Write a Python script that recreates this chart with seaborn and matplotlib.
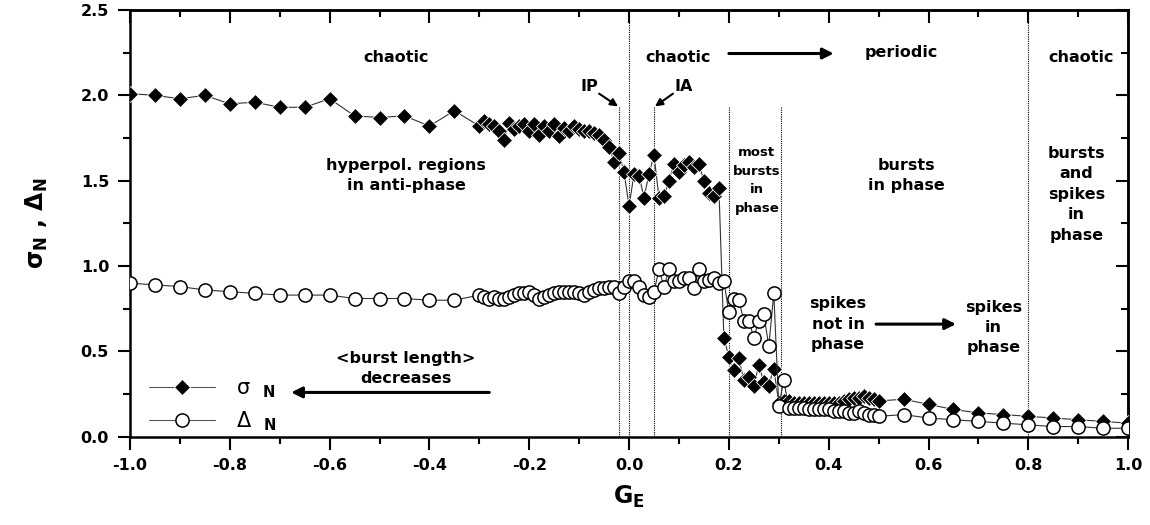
import numpy as np
import pandas as pd
import matplotlib
matplotlib.use("Agg")
import matplotlib.pyplot as plt
import seaborn as sns

sns.set_style("ticks")
plt.rcParams['font.family'] = ['DejaVu Sans']
plt.rcParams['mathtext.fontset'] = 'dejavusans'
for key in ['text.color', 'axes.labelcolor', 'xtick.color', 'ytick.color', 'axes.edgecolor']:
    plt.rcParams[key] = 'black'

# ---------------- data ----------------
ge_left = [-1.00, -0.95, -0.90, -0.85, -0.80, -0.75, -0.70, -0.65, -0.60,
           -0.55, -0.50, -0.45, -0.40, -0.35]
sigma_left = [2.01, 2.00, 1.98, 2.00, 1.95, 1.96, 1.93, 1.93, 1.98,
              1.88, 1.87, 1.88, 1.82, 1.91]
delta_left = [0.90, 0.89, 0.88, 0.86, 0.85, 0.84, 0.83, 0.83, 0.83,
              0.81, 0.81, 0.81, 0.80, 0.80]

ge_mid = [-0.30, -0.29, -0.28, -0.27, -0.26, -0.25, -0.24, -0.23, -0.22, -0.21,
          -0.20, -0.19, -0.18, -0.17, -0.16, -0.15, -0.14, -0.13, -0.12, -0.11,
          -0.10, -0.09, -0.08, -0.07, -0.06, -0.05, -0.04, -0.03, -0.02, -0.01,
          0.00, 0.01, 0.02, 0.03, 0.04, 0.05, 0.06, 0.07, 0.08, 0.09,
          0.10, 0.11, 0.12, 0.13, 0.14, 0.15, 0.16, 0.17, 0.18, 0.19,
          0.20, 0.21, 0.22, 0.23, 0.24, 0.25, 0.26, 0.27, 0.28, 0.29,
          0.30, 0.31, 0.32, 0.33, 0.34, 0.35, 0.36, 0.37, 0.38, 0.39,
          0.40, 0.41, 0.42, 0.43, 0.44, 0.45, 0.46, 0.47, 0.48, 0.49,
          0.50]
sigma_mid = [1.82, 1.85, 1.83, 1.82, 1.79, 1.74, 1.84, 1.80, 1.82, 1.83,
             1.79, 1.83, 1.77, 1.82, 1.79, 1.83, 1.76, 1.81, 1.79, 1.82,
             1.80, 1.79, 1.79, 1.78, 1.77, 1.74, 1.70, 1.61, 1.66, 1.55,
             1.35, 1.54, 1.53, 1.40, 1.54, 1.65, 1.40, 1.41, 1.50, 1.60,
             1.55, 1.59, 1.61, 1.58, 1.60, 1.50, 1.43, 1.41, 1.46, 0.58,
             0.47, 0.39, 0.46, 0.33, 0.35, 0.30, 0.42, 0.32, 0.30, 0.40,
             0.20, 0.21, 0.21, 0.20, 0.20, 0.20, 0.20, 0.20, 0.20, 0.20,
             0.20, 0.20, 0.20, 0.21, 0.22, 0.23, 0.23, 0.24, 0.23, 0.22,
             0.21]
delta_mid = [0.83, 0.82, 0.81, 0.82, 0.81, 0.81, 0.82, 0.83, 0.84, 0.84,
             0.85, 0.83, 0.81, 0.82, 0.83, 0.84, 0.85, 0.85, 0.85, 0.85,
             0.84, 0.83, 0.85, 0.86, 0.87, 0.87, 0.88, 0.88, 0.84, 0.88,
             0.91, 0.91, 0.88, 0.83, 0.82, 0.85, 0.98, 0.88, 0.98, 0.91,
             0.91, 0.93, 0.93, 0.87, 0.98, 0.91, 0.92, 0.93, 0.90, 0.91,
             0.73, 0.81, 0.80, 0.68, 0.68, 0.58, 0.68, 0.72, 0.53, 0.84,
             0.18, 0.33, 0.17, 0.17, 0.17, 0.17, 0.16, 0.16, 0.16, 0.16,
             0.16, 0.15, 0.15, 0.15, 0.14, 0.14, 0.15, 0.14, 0.13, 0.13,
             0.12]

ge_right = [0.55, 0.60, 0.65, 0.70, 0.75, 0.80, 0.85, 0.90, 0.95, 1.00]
sigma_right = [0.22, 0.19, 0.16, 0.14, 0.13, 0.12, 0.11, 0.10, 0.09, 0.08]
delta_right = [0.13, 0.11, 0.10, 0.09, 0.08, 0.07, 0.06, 0.06, 0.05, 0.05]

df = pd.DataFrame({
    "ge": ge_left + ge_mid + ge_right,
    "sigma": sigma_left + sigma_mid + sigma_right,
    "delta": delta_left + delta_mid + delta_right,
})

# dotted boundaries: (x, top)
boundaries = [(-0.02, 1.93), (0.0, 2.5), (0.05, 1.93), (0.2, 1.93), (0.305, 1.93), (0.8, 2.5)]

# ---------------- figure ----------------
fig = plt.figure(figsize=(11.5, 5.25), dpi=100)
ax = fig.add_axes([0.113, 0.168, 0.868, 0.813])

for xb, top in boundaries:
    ax.vlines(xb, 0, top, colors="black", linestyles=(0, (1, 1)), linewidth=0.8, zorder=1)

sns.lineplot(data=df, x="ge", y="sigma", ax=ax, estimator=None, sort=False,
             color="#333333", linewidth=0.8, marker="D", markersize=8.5,
             markerfacecolor="black", markeredgecolor="white", markeredgewidth=0.6,
             label=r"σ  $_{\mathbf{N}}$", zorder=3)
sns.lineplot(data=df, x="ge", y="delta", ax=ax, estimator=None, sort=False,
             color="#333333", linewidth=0.8, marker="o", markersize=9.5,
             markerfacecolor="white", markeredgecolor="black", markeredgewidth=1.1,
             label=r"Δ  $_{\mathbf{N}}$", zorder=4)

ax.set_xlim(-1.0, 1.0)
ax.set_ylim(0.0, 2.5)
ax.set_xticks([-1.0, -0.8, -0.6, -0.4, -0.2, 0.0, 0.2, 0.4, 0.6, 0.8, 1.0])
ax.set_xticks([-0.9, -0.7, -0.5, -0.3, -0.1, 0.1, 0.3, 0.5, 0.7, 0.9], minor=True)
ax.set_yticks([0.0, 0.5, 1.0, 1.5, 2.0, 2.5])
ax.set_yticks([0.25, 0.75, 1.25, 1.75, 2.25], minor=True)
ax.set_xticklabels(["-1.0", "-0.8", "-0.6", "-0.4", "-0.2", "0.0", "0.2", "0.4", "0.6", "0.8", "1.0"])
ax.set_yticklabels(["0.0", "0.5", "1.0", "1.5", "2.0", "2.5"])
ax.tick_params(which="major", direction="out", length=9, width=1.5, labelsize=11.5, pad=6)
ax.tick_params(which="minor", direction="out", length=5, width=1.5)
for lab in ax.get_xticklabels() + ax.get_yticklabels():
    lab.set_fontweight("bold")
for sp in ax.spines.values():
    sp.set_linewidth(1.8)

# mirrored ticks pointing inward on top and right
top = ax.secondary_xaxis("top")
top.set_xticks(ax.get_xticks())
top.set_xticks([-0.9, -0.7, -0.5, -0.3, -0.1, 0.1, 0.3, 0.5, 0.7, 0.9], minor=True)
top.tick_params(which="major", direction="in", length=9, width=1.5, labeltop=False)
top.tick_params(which="minor", direction="in", length=5, width=1.5)
top.spines["top"].set_linewidth(1.8)
right = ax.secondary_yaxis("right")
right.set_yticks([0.0, 0.5, 1.0, 1.5, 2.0, 2.5])
right.set_yticks([0.25, 0.75, 1.25, 1.75, 2.25], minor=True)
right.tick_params(which="major", direction="in", length=9, width=1.5, labelright=False)
right.tick_params(which="minor", direction="in", length=5, width=1.5)
right.spines["right"].set_linewidth(1.8)

ax.set_xlabel(r"G$_{\mathbf{E}}$", fontsize=17, fontweight="bold", labelpad=8)
ax.set_ylabel(r"σ$_{\mathbf{N}}$ , Δ$_{\mathbf{N}}$", fontsize=17, fontweight="bold", labelpad=22)

# annotations
tkw = dict(fontsize=11.5, fontweight="bold", ha="center", va="center", linespacing=1.45)
ax.text(-0.467, 2.22, "chaotic", **tkw)
ax.text(0.098, 2.22, "chaotic", **tkw)
ax.text(0.545, 2.25, "periodic", **tkw)
ax.text(0.906, 2.22, "chaotic", **tkw)
ax.text(-0.08, 2.05, "IP", **tkw)
ax.text(0.11, 2.05, "IA", **tkw)
ax.text(-0.447, 1.53, "hyperpol. regions\nin anti-phase", **tkw)
ax.text(0.256, 1.50, "most\nbursts\nin\nphase", fontsize=9.5, fontweight="bold",
        ha="center", va="center", linespacing=1.55)
ax.text(0.555, 1.53, "bursts\nin phase", **tkw)
ax.text(0.896, 1.42, "bursts\nand\nspikes\nin\nphase", **tkw)
ax.text(0.419, 0.66, "spikes\nnot in\nphase", **tkw)
ax.text(0.73, 0.64, "spikes\nin\nphase", **tkw)
ax.text(-0.447, 0.40, "<burst length>\ndecreases", **tkw)

akw = dict(arrowstyle="-|>", color="black", lw=2.2, mutation_scale=16, shrinkA=0, shrinkB=0)
ax.annotate("", xy=(0.41, 2.245), xytext=(0.2, 2.245), arrowprops=akw)
ax.annotate("", xy=(0.655, 0.66), xytext=(0.495, 0.66), arrowprops=akw)
ax.annotate("", xy=(-0.677, 0.26), xytext=(-0.28, 0.26), arrowprops=akw)
skw = dict(arrowstyle="-|>", color="black", lw=1.5, mutation_scale=11, shrinkA=0, shrinkB=0)
ax.annotate("", xy=(-0.022, 1.935), xytext=(-0.06, 2.01), arrowprops=skw)
ax.annotate("", xy=(0.052, 1.935), xytext=(0.088, 2.01), arrowprops=skw)

leg = ax.legend(loc="lower left", bbox_to_anchor=(0.0, -0.035), frameon=False,
                prop={"size": 15, "weight": "normal"}, handlelength=3.2,
                handletextpad=1.0, labelspacing=0.45)
for line in leg.get_lines():
    line.set_color("#555555")

fig.savefig("out.png", dpi=100)
